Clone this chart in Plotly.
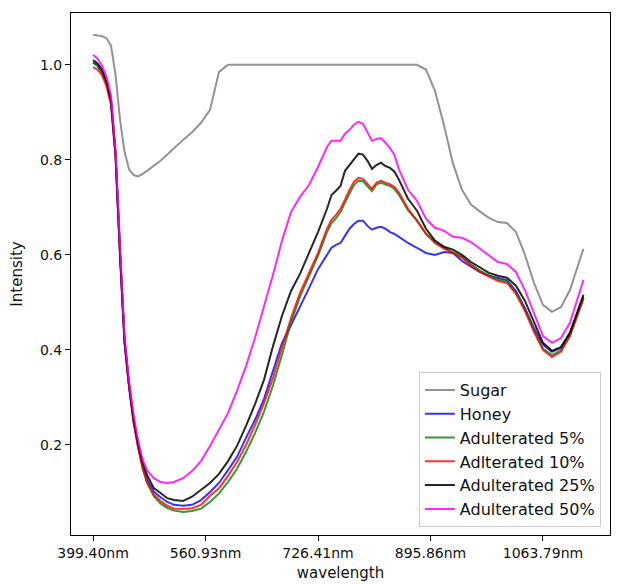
import plotly.graph_objects as go

# sample index along the spectrum (x axis is index-based, labelled with wavelengths)
sample_index = [0, 2, 4, 6, 8, 10, 12, 14, 16, 18, 20, 22, 24, 27, 30, 33, 36,
                40, 44, 48, 52, 56, 60, 64, 68, 72, 76, 80, 84, 88, 92, 96, 100, 104,
                106, 108, 110, 112, 114, 116, 118, 120, 122, 124, 126, 128, 130, 132, 134, 136,
                140, 144, 148, 152, 156, 160, 164, 168, 172, 176, 180, 184, 188, 192, 196, 200,
                204, 208, 212, 218]

tick_positions = [0, 50, 100, 150, 200]
tick_labels = ["399.40nm", "560.93nm", "726.41nm", "895.86nm", "1063.79nm"]

sugar = [1.063, 1.061, 1.060, 1.056, 1.040, 0.979, 0.884, 0.817, 0.780, 0.768, 0.765, 0.770, 0.777,
         0.787, 0.798, 0.811, 0.825,
         0.842, 0.858, 0.878, 0.905, 0.985, 1.0, 1.0, 1.0, 1.0, 1.0, 1.0, 1.0, 1.0, 1.0, 1.0, 1.0, 1.0,
         1.0, 1.0, 1.0, 1.0, 1.0, 1.0, 1.0, 1.0, 1.0, 1.0, 1.0, 1.0, 1.0, 1.0, 1.0, 1.0,
         1.0, 1.0, 0.990, 0.945, 0.873, 0.792, 0.737, 0.706, 0.691, 0.678, 0.669, 0.667, 0.648, 0.600,
         0.541, 0.495, 0.480, 0.490, 0.526,
         0.613]

honey = [1.005, 0.998, 0.985, 0.962, 0.922, 0.812, 0.603, 0.418, 0.326, 0.252, 0.200, 0.158, 0.128,
         0.102, 0.090, 0.080, 0.074,
         0.072, 0.074, 0.084, 0.101, 0.120, 0.147, 0.175, 0.215, 0.253, 0.297, 0.358, 0.415, 0.452,
         0.490, 0.530, 0.570, 0.600,
         0.615, 0.621, 0.625, 0.640, 0.655, 0.665, 0.672, 0.672, 0.661, 0.653, 0.657, 0.659, 0.655,
         0.648, 0.644, 0.638,
         0.625, 0.615, 0.604, 0.600, 0.606, 0.604, 0.587, 0.575, 0.564, 0.556, 0.552, 0.547, 0.524,
         0.488, 0.446, 0.411, 0.396, 0.404, 0.436,
         0.512]

adult_5 = [1.005, 0.998, 0.984, 0.960, 0.920, 0.810, 0.600, 0.416, 0.323, 0.249, 0.196, 0.152, 0.120,
           0.092, 0.077, 0.067, 0.062,
           0.059, 0.061, 0.066, 0.080, 0.098, 0.122, 0.150, 0.185, 0.225, 0.270, 0.325, 0.390, 0.458,
           0.512, 0.555, 0.598, 0.648,
           0.667, 0.677, 0.690, 0.710, 0.730, 0.747, 0.756, 0.755, 0.744, 0.734, 0.748, 0.752, 0.748,
           0.745, 0.738, 0.726,
           0.694, 0.672, 0.645, 0.627, 0.615, 0.606, 0.596, 0.580, 0.567, 0.557, 0.548, 0.544, 0.521,
           0.485, 0.441, 0.403, 0.389, 0.399, 0.432,
           0.510]

adult_10 = [0.995, 0.990, 0.978, 0.955, 0.915, 0.805, 0.598, 0.415, 0.322, 0.248, 0.195, 0.152, 0.122,
            0.096, 0.082, 0.072, 0.066,
            0.065, 0.067, 0.074, 0.093, 0.109, 0.135, 0.164, 0.200, 0.242, 0.288, 0.341, 0.405, 0.467,
            0.520, 0.562, 0.604, 0.655,
            0.674, 0.684, 0.697, 0.716, 0.737, 0.754, 0.762, 0.760, 0.749, 0.739, 0.752, 0.756, 0.752,
            0.749, 0.743, 0.731,
            0.697, 0.672, 0.644, 0.625, 0.613, 0.604, 0.594, 0.577, 0.564, 0.554, 0.545, 0.541, 0.518,
            0.482, 0.438, 0.400, 0.385, 0.396, 0.429,
            0.507]

adult_25 = [1.010, 1.003, 0.990, 0.965, 0.925, 0.815, 0.605, 0.420, 0.328, 0.255, 0.204, 0.164, 0.137,
            0.109, 0.099, 0.088, 0.084,
            0.082, 0.091, 0.105, 0.120, 0.139, 0.166, 0.198, 0.240, 0.286, 0.337, 0.408, 0.472, 0.524,
            0.560, 0.604, 0.648, 0.697,
            0.726, 0.735, 0.745, 0.777, 0.789, 0.800, 0.813, 0.811, 0.798, 0.781, 0.789, 0.794, 0.787,
            0.783, 0.775, 0.758,
            0.718, 0.693, 0.655, 0.630, 0.617, 0.611, 0.600, 0.585, 0.573, 0.562, 0.556, 0.552, 0.535,
            0.503, 0.459, 0.415, 0.398, 0.406, 0.436,
            0.516]

adult_50 = [1.021, 1.013, 0.998, 0.975, 0.935, 0.821, 0.620, 0.430, 0.335, 0.265, 0.210, 0.170, 0.147,
            0.130, 0.122, 0.120, 0.122,
            0.130, 0.145, 0.166, 0.198, 0.233, 0.267, 0.314, 0.366, 0.425, 0.491, 0.558, 0.630, 0.690,
            0.722, 0.747, 0.785, 0.827,
            0.840, 0.840, 0.840, 0.855, 0.863, 0.874, 0.880, 0.876, 0.859, 0.840, 0.844, 0.846, 0.836,
            0.825, 0.810, 0.780,
            0.737, 0.714, 0.676, 0.657, 0.651, 0.638, 0.636, 0.627, 0.613, 0.598, 0.585, 0.581, 0.564,
            0.526, 0.476, 0.429, 0.415, 0.425, 0.457,
            0.547]

series_names = ["Sugar", "Honey", "Adulterated 5%", "Adlterated 10%", "Adulterated 25%", "Adulterated 50%"]
series_values = [sugar, honey, adult_5, adult_10, adult_25, adult_50]
series_colors = ["rgba(128,128,128,0.85)", "rgba(0,0,255,0.8)", "rgba(0,128,0,0.8)",
                 "rgba(255,0,0,0.8)", "rgba(0,0,0,0.85)", "rgba(255,0,255,0.85)"]

fig = go.Figure()
for name, vals, col in zip(series_names, series_values, series_colors):
    fig.add_trace(go.Scatter(x=sample_index, y=vals, mode="lines", name=name,
                             legendgroup=name,
                             line=dict(color=col, width=2)))

axis_common = dict(showline=True, linecolor="black", linewidth=1, mirror=True,
                   ticks="outside", ticklen=5, tickwidth=1, tickcolor="black",
                   showgrid=False, zeroline=False,
                   tickfont=dict(family="DejaVu Sans", size=14, color="#111"))

# page body has an 8px default margin, so the margins are offset by 8px
fig.update_layout(
    width=628, height=584,
    margin=dict(l=63, r=26, t=5, b=57),
    paper_bgcolor="white", plot_bgcolor="white",
    font=dict(family="DejaVu Sans", color="#111"),
    xaxis=dict(range=[-9.8, 229.8], tickvals=tick_positions, ticktext=tick_labels,
               title=dict(text="wavelength", font=dict(size=15), standoff=7),
               **axis_common),
    yaxis=dict(range=[0.0105, 1.109], tickvals=[0.2, 0.4, 0.6, 0.8, 1.0],
               ticktext=["0.2", "0.4", "0.6", "0.8", "1.0"],
               title=dict(text="Intensity", font=dict(size=15), standoff=14),
               **axis_common),
    legend=dict(x=0.983, y=0.0153, xanchor="right", yanchor="bottom",
                bgcolor="rgba(255,255,255,0.8)", bordercolor="#cccccc", borderwidth=1,
                font=dict(family="DejaVu Sans", size=16, color="#111"),
                tracegroupgap=4, traceorder="normal"),
    showlegend=True,
)

fig.write_html("out.html")
